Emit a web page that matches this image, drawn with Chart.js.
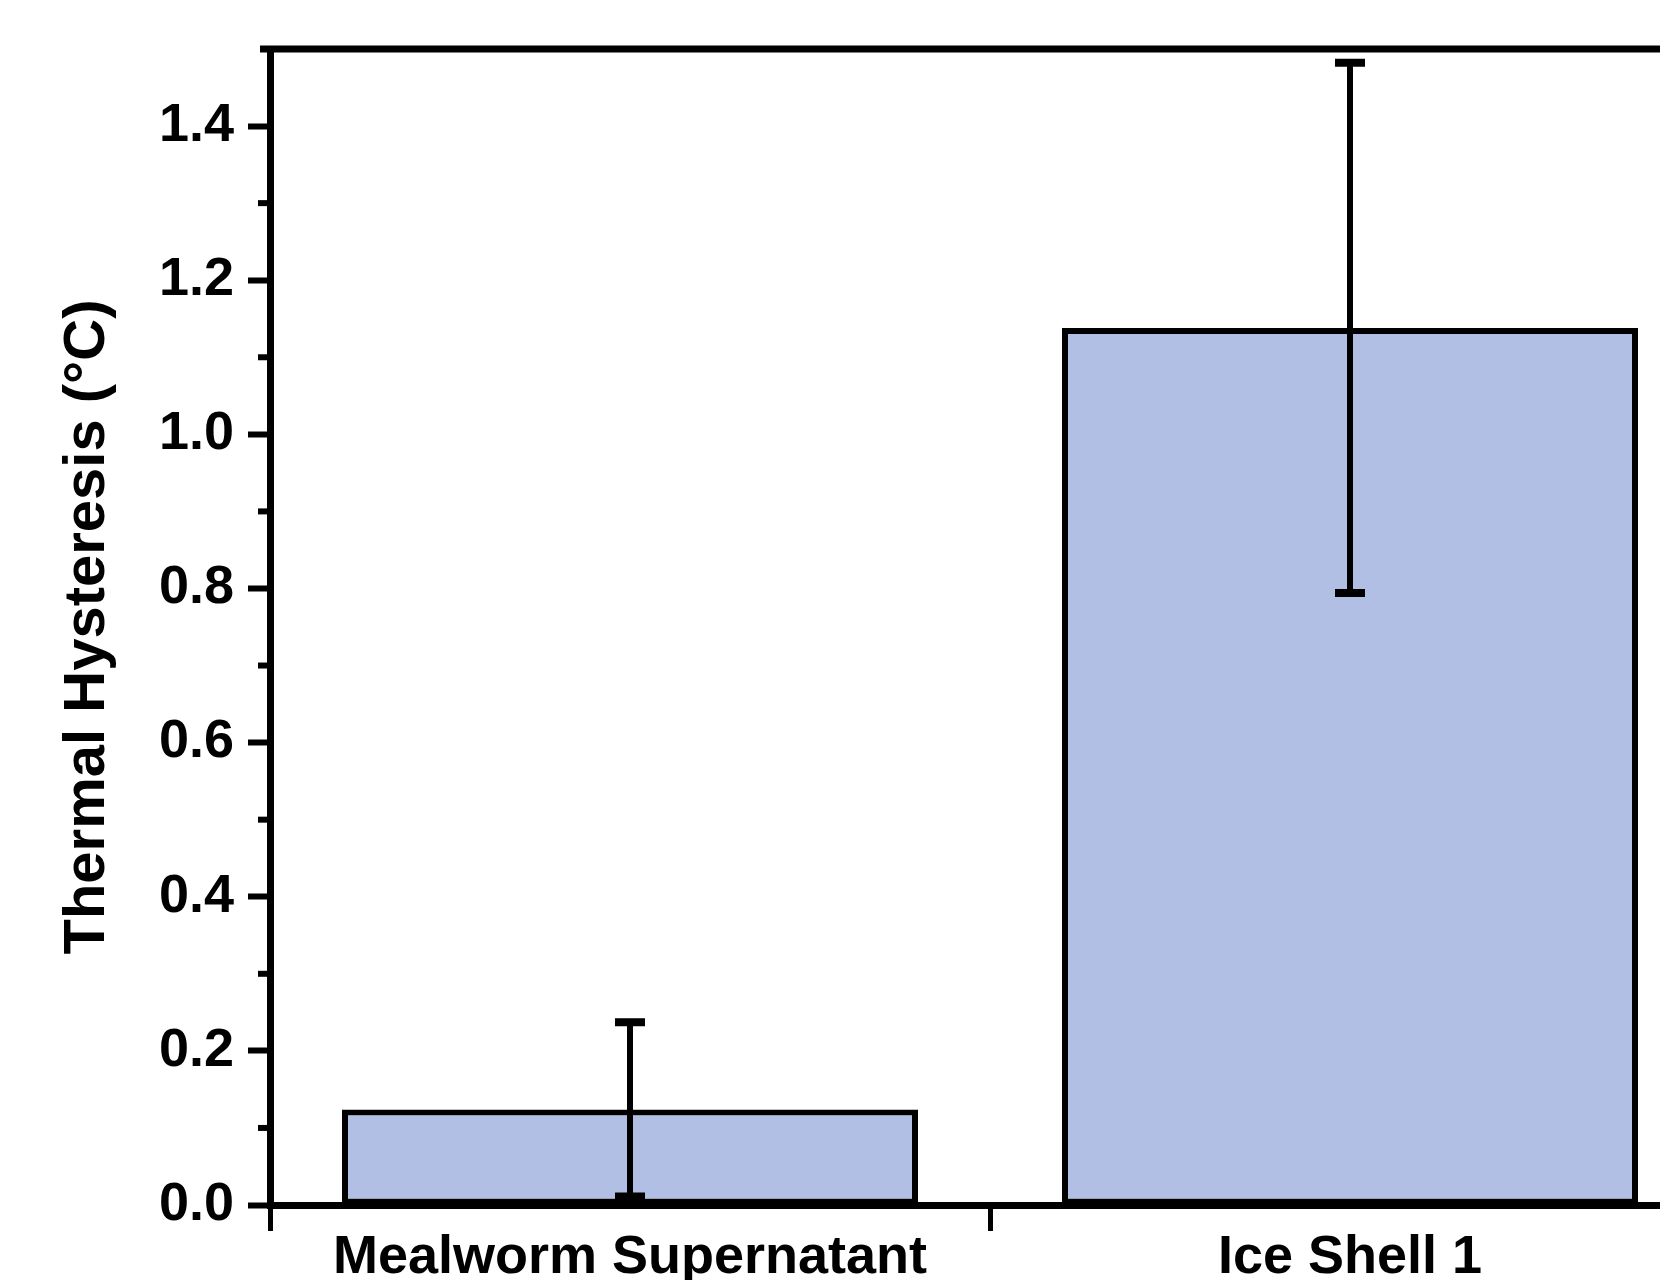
<!DOCTYPE html>
<html>
<head>
<meta charset="utf-8">
<title>Thermal Hysteresis</title>
<script src="https://cdn.jsdelivr.net/npm/chart.js@4.4.1/dist/chart.umd.min.js"></script>
<style>
    html, body { margin: 0; padding: 0; background: #fff; overflow: hidden; }
    #wrap { width: 1660px; height: 1280px; overflow: hidden; }
</style>
</head>
<body>
<div id="wrap">
    <canvas id="th-chart" width="1740" height="1320"></canvas>
</div>
<script>
// Values
const categories = ['Mealworm Supernatant', 'Ice Shell 1'];
const meanValues = [0.124, 1.138];
const errorValues = [0.113, 0.344];
const yMin = 0;
const yMax = 1.5;
const yStep = 0.2;
const lastLabelledTick = 1.4;

const FONT = "'Liberation Sans', Arial, sans-serif";
const INK = '#000000';

/**
 * Minor y ticks halfway between the labelled ones
 */
const minorTicks = {
    id: 'minorTicks',
    afterDraw(chart) {
        const y = chart.scales.y;
        const ctx = chart.ctx;
        const left = chart.chartArea.left;
        ctx.save();
        ctx.strokeStyle = INK;
        ctx.lineWidth = 6;
        for (let i = 0; i < y.ticks.length - 1; i++) {
            const v = (y.ticks[i].value + y.ticks[i + 1].value) / 2;
            const py = y.getPixelForValue(v);
            ctx.beginPath();
            ctx.moveTo(left - 12, py);
            ctx.lineTo(left, py);
            ctx.stroke();
        }
        ctx.restore();
    },
};

/**
 * Top frame line
 */
const topFrame = {
    id: 'topFrame',
    afterDraw(chart) {
        const { ctx, chartArea } = chart;
        ctx.save();
        ctx.strokeStyle = INK;
        ctx.lineWidth = 7;
        ctx.beginPath();
        ctx.moveTo(chartArea.left - 10, chartArea.top);
        ctx.lineTo(chartArea.right, chartArea.top);
        ctx.stroke();
        ctx.restore();
    },
};

/**
 * Error bars (mean +/- error) drawn over each bar
 */
const errorBars = {
    id: 'errorBars',
    afterDatasetsDraw(chart) {
        const ctx = chart.ctx;
        const y = chart.scales.y;
        const meta = chart.getDatasetMeta(0);
        ctx.save();
        ctx.strokeStyle = INK;
        meta.data.forEach((bar, i) => {
            const v = meanValues[i];
            const e = errorValues[i];
            const top = y.getPixelForValue(v + e);
            const bot = y.getPixelForValue(Math.max(yMin, v - e));
            const capHalf = 15;
            ctx.lineWidth = 6;
            ctx.beginPath();
            ctx.moveTo(bar.x, top);
            ctx.lineTo(bar.x, bot);
            ctx.stroke();
            ctx.lineWidth = 8;
            ctx.beginPath();
            ctx.moveTo(bar.x - capHalf, top);
            ctx.lineTo(bar.x + capHalf, top);
            ctx.moveTo(bar.x - capHalf, bot);
            ctx.lineTo(bar.x + capHalf, bot);
            ctx.stroke();
        });
        ctx.restore();
    },
};

const ctx = document.getElementById('th-chart');
new Chart(ctx, {
    type: 'bar',
    data: {
        labels: categories,
        datasets: [{
            label: 'Thermal Hysteresis',
            data: meanValues,
            backgroundColor: '#b2bfe4',
            borderColor: INK,
            borderWidth: 6,
            borderSkipped: false,
            barPercentage: 0.8,
            categoryPercentage: 1.0,
        }],
    },
    options: {
        responsive: false,
        animation: false,
        layout: { padding: { left: 48, top: 49, right: 30, bottom: 0 } },
        plugins: {
            legend: { display: false },
            tooltip: { enabled: false },
        },
        scales: {
            x: {
                type: 'category',
                offset: true,
                grid: {
                    offset: true,
                    drawOnChartArea: false,
                    drawTicks: true,
                    tickLength: 26,
                    tickWidth: 5,
                    tickColor: INK,
                },
                border: { display: true, color: INK, width: 7 },
                ticks: {
                    color: INK,
                    padding: 0,
                    font: { family: FONT, size: 54, weight: 'bold', lineHeight: 1.0 },
                },
                afterFit: (scale) => { scale.height = 115; },
            },
            y: {
                min: yMin,
                max: yMax,
                grid: {
                    drawOnChartArea: false,
                    drawTicks: true,
                    tickLength: 22,
                    tickWidth: 6,
                    tickColor: INK,
                },
                border: { display: true, color: INK, width: 7 },
                ticks: {
                    stepSize: yStep,
                    color: INK,
                    padding: 14,
                    font: { family: FONT, size: 54, weight: 'bold' },
                    callback: v => v.toFixed(1),
                },
                afterBuildTicks: (axis) => {
                    axis.ticks = axis.ticks.filter(t => t.value <= lastLabelledTick + 1e-9);
                },
                title: {
                    display: true,
                    text: 'Thermal Hysteresis (°C)',
                    color: INK,
                    padding: { top: 5, bottom: 4 },
                    font: { family: FONT, size: 58, weight: 'bold' },
                },
                afterFit: (scale) => { scale.width = 222; },
            },
        },
    },
    plugins: [minorTicks, topFrame, errorBars],
});
</script>
</body>
</html>
